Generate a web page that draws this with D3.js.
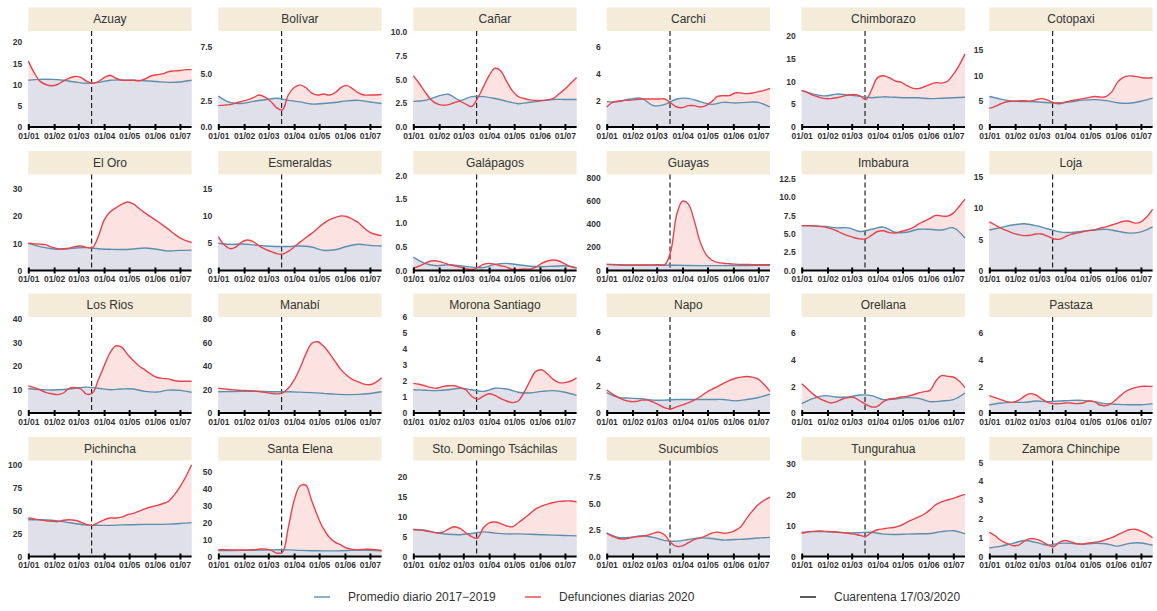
<!DOCTYPE html>
<html>
<head>
<meta charset="utf-8">
<title>Defunciones diarias por provincia</title>
<script src="https://d3js.org/d3.v7.min.js"></script>
<style>
    body { margin: 0; background: #fff; }
    .strip-label { font: 12px "Liberation Sans", Arial, sans-serif; fill: #333; }
    .tick text { font: bold 8.5px "Liberation Sans", Arial, sans-serif; fill: #333; }
    .legend text { font: 12px "Liberation Sans", Arial, sans-serif; fill: #333; }
</style>
</head>
<body>
<svg width="1157" height="611"></svg>
<script>
// day of year 2020 (0 = 01/01)
var weekDays = d3.range(0, 197, 7);        // 29 points, red series
var fortnightDays = d3.range(0, 197, 14);  // 15 points, blue series
var monthDays = [0, 31, 60, 91, 121, 152, 182];
var monthLabels = ["01/01", "01/02", "01/03", "01/04", "01/05", "01/06", "01/07"];
var quarantineDay = 76; // 17/03/2020

var provinces = ["Azuay", "Bolívar", "Cañar", "Carchi", "Chimborazo", "Cotopaxi",
    "El Oro", "Esmeraldas", "Galápagos", "Guayas", "Imbabura", "Loja",
    "Los Rios", "Manabí", "Morona Santiago", "Napo", "Orellana", "Pastaza",
    "Pichincha", "Santa Elena", "Sto. Domingo Tsáchilas", "Sucumbíos", "Tungurahua", "Zamora Chinchipe"];

var yMax = [22.6, 9.0, 10.1, 7.2, 21, 18.6,
    35.3, 17.6, 2.02, 824, 13.05, 15.4,
    40.8, 81.5, 6.0, 7.1, 7.2, 7.2,
    104.7, 56.5, 24.2, 9.05, 30.9, 5.1];

var yTicks = [[0, 5, 10, 15, 20], [0, 2.5, 5, 7.5], [0, 2.5, 5, 7.5, 10], [0, 2, 4, 6], [0, 5, 10, 15, 20], [0, 5, 10, 15],
    [0, 10, 20, 30], [0, 5, 10, 15], [0, 0.5, 1, 1.5, 2], [0, 200, 400, 600, 800], [0, 2.5, 5, 7.5, 10, 12.5], [0, 5, 10, 15],
    [0, 10, 20, 30, 40], [0, 20, 40, 60, 80], [0, 1, 2, 3, 4, 5, 6], [0, 2, 4, 6], [0, 2, 4, 6], [0, 2, 4, 6],
    [0, 25, 50, 75, 100], [0, 10, 20, 30, 40, 50], [0, 5, 10, 15, 20], [0, 2.5, 5, 7.5], [0, 10, 20, 30], [0, 1, 2, 3, 4, 5]];

var yDecimals = [0, 1, 1, 0, 0, 0,
    0, 0, 1, 0, 1, 0,
    0, 0, 0, 0, 0, 0,
    0, 0, 0, 1, 0, 0];

// Defunciones diarias 2020 (smoothed), weekly
var deaths2020 = [
    [15.5, 12.8, 10.8, 10.0, 9.7, 10.0, 10.8, 11.5, 11.9, 11.7, 10.8, 10.3, 10.7, 11.6, 12.2, 11.5, 11.0, 11.0, 11.0, 10.9, 11.3, 12.0, 12.3, 12.5, 13.0, 13.2, 13.3, 13.5, 13.5],
    [2.0, 2.05, 2.1, 2.25, 2.4, 2.55, 2.75, 3.0, 2.8, 2.4, 1.8, 1.6, 3.0, 3.7, 3.95, 3.7, 3.2, 3.0, 3.1, 3.0, 3.2, 3.7, 3.9, 3.6, 3.2, 3.0, 3.0, 3.0, 3.05],
    [5.4, 4.6, 3.7, 2.9, 2.45, 2.3, 2.35, 2.55, 2.7, 2.4, 2.15, 3.0, 4.2, 5.4, 6.2, 5.9, 4.8, 3.8, 3.2, 3.0, 2.85, 2.8, 2.8, 2.85, 3.0, 3.5, 4.0, 4.6, 5.2],
    [1.5, 1.85, 1.95, 2.0, 2.0, 2.05, 2.1, 2.1, 2.1, 2.1, 2.1, 1.8, 1.5, 1.45, 1.6, 1.6, 1.5, 1.6, 1.9, 2.3, 2.35, 2.35, 2.55, 2.55, 2.5, 2.55, 2.65, 2.75, 2.9],
    [8.0, 7.5, 6.9, 6.5, 6.2, 6.2, 6.4, 6.7, 7.0, 7.1, 6.8, 6.0, 8.2, 10.8, 11.2, 10.8, 10.1, 9.8, 9.1, 8.5, 8.4, 8.8, 9.3, 9.7, 9.6, 10.0, 11.5, 13.5, 16.0],
    [3.6, 4.0, 4.5, 4.9, 5.0, 5.05, 5.1, 5.0, 5.3, 5.5, 5.2, 4.7, 4.5, 4.8, 5.1, 5.3, 5.5, 5.7, 5.9, 5.8, 5.9, 6.8, 8.7, 9.6, 9.9, 9.8, 9.6, 9.5, 9.6],
    [10.0, 9.8, 9.7, 9.5, 8.6, 8.0, 8.0, 8.2, 8.8, 9.0, 8.5, 8.4, 12.5, 18.5, 21.5, 23.0, 24.3, 25.2, 24.5, 22.8, 21.2, 19.7, 18.3, 16.8, 15.2, 13.5, 12.0, 11.0, 10.3],
    [6.2, 4.7, 4.0, 4.3, 5.2, 5.6, 5.3, 4.5, 3.9, 3.5, 3.1, 3.0, 3.5, 4.3, 5.2, 6.0, 6.8, 7.7, 8.6, 9.3, 9.7, 10.0, 9.9, 9.4, 8.8, 7.8, 7.0, 6.6, 6.4],
    [0.05, 0.09, 0.15, 0.2, 0.2, 0.17, 0.13, 0.1, 0.07, 0.04, 0.02, 0.06, 0.13, 0.15, 0.13, 0.1, 0.07, 0.02, 0.02, 0.03, 0.03, 0.07, 0.15, 0.2, 0.22, 0.2, 0.14, 0.08, 0.05],
    [55, 52, 50, 48, 48, 47, 47, 47, 48, 50, 52, 170, 480, 595, 570, 430, 250, 140, 90, 70, 62, 58, 55, 53, 52, 50, 50, 50, 50],
    [6.1, 6.1, 6.1, 6.0, 5.9, 5.7, 5.4, 5.0, 4.7, 4.45, 4.3, 4.3, 4.8, 5.3, 5.4, 5.15, 5.1, 5.3, 5.5, 5.8, 6.3, 6.7, 7.1, 7.5, 7.4, 7.4, 7.8, 8.7, 9.7],
    [7.8, 7.3, 6.8, 6.4, 6.0, 5.75, 5.6, 5.65, 5.85, 5.85, 5.5, 5.1, 5.0, 5.4, 5.8, 6.0, 6.2, 6.4, 6.5, 6.8, 7.0, 7.3, 7.6, 7.9, 7.9, 7.6, 7.8, 8.6, 9.8],
    [11.5, 10.8, 9.8, 8.8, 8.2, 7.8, 8.5, 10.5, 10.8, 10.2, 8.0, 8.5, 14.0, 20.0, 25.5, 28.5, 28.0, 25.0, 22.3, 20.0, 18.3, 16.5, 15.2, 14.7, 14.5, 13.8, 13.5, 13.5, 13.5],
    [21, 20.5, 20, 19.5, 19.2, 19, 18.8, 18.3, 17.5, 16.8, 16.2, 17.0, 21.0, 28, 38, 50, 59, 60.5, 57, 51, 44, 37, 32, 28.5, 26.5, 24.5, 24, 26, 30],
    [1.85, 1.8, 1.7, 1.6, 1.55, 1.65, 1.7, 1.7, 1.6, 1.45, 1.05, 0.85, 1.05, 1.2, 1.1, 0.9, 0.75, 0.65, 0.75, 1.3, 2.0, 2.6, 2.7, 2.45, 2.1, 1.9, 1.9, 2.0, 2.2],
    [1.7, 1.4, 1.15, 0.95, 0.85, 0.85, 0.95, 0.95, 0.8, 0.6, 0.38, 0.3, 0.45, 0.6, 0.75, 0.95, 1.2, 1.5, 1.75, 1.95, 2.2, 2.4, 2.55, 2.65, 2.7, 2.65, 2.5, 2.1, 1.6],
    [2.2, 1.8, 1.4, 1.1, 0.9, 0.75, 0.85, 1.05, 1.15, 1.15, 0.9, 0.65, 0.45, 0.5, 0.85, 1.05, 1.1, 1.2, 1.25, 1.35, 1.5, 1.6, 1.7, 2.4, 2.8, 2.75, 2.7, 2.4, 1.9],
    [1.3, 1.15, 1.0, 0.85, 0.8, 0.95, 1.25, 1.45, 1.35, 1.05, 0.8, 0.7, 0.7, 0.75, 0.75, 0.7, 0.75, 0.9, 0.85, 0.6, 0.55, 0.75, 1.1, 1.5, 1.75, 1.9, 2.0, 2.0, 2.0],
    [42, 41, 40, 39, 38.5, 38, 39.5, 40, 39.5, 37.5, 35, 34, 37, 40, 42, 42, 43, 45.5, 47, 49.5, 52, 54, 55.5, 57.5, 60, 67, 76, 87, 100],
    [4.0, 4.0, 3.9, 3.8, 3.8, 3.9, 4.0, 4.3, 4.5, 3.8, 2.0, 2.5, 17, 33, 41.5, 42, 33, 24, 16.5, 11.5, 8.5, 6.8, 5.0, 4.2, 4.0, 4.2, 4.3, 4.0, 3.5],
    [6.8, 6.7, 6.5, 6.2, 6.0, 6.1, 6.9, 7.5, 7.1, 6.0, 5.0, 4.6, 7.2, 8.5, 8.7, 8.3, 7.7, 7.5, 8.5, 9.6, 10.8, 12.0, 12.7, 13.2, 13.6, 13.9, 14.0, 14.0, 13.8],
    [2.2, 1.9, 1.7, 1.65, 1.75, 1.85, 1.9, 2.0, 2.2, 2.3, 2.0, 1.3, 0.95, 1.0, 1.3, 1.6, 1.75, 1.95, 2.2, 2.3, 2.2, 2.25, 2.45, 2.8, 3.6, 4.3, 4.9, 5.3, 5.6],
    [7.5, 7.9, 8.1, 8.2, 8.1, 8.0, 7.9, 7.7, 7.5, 7.2, 6.8, 6.5, 7.8, 8.6, 8.9, 9.2, 9.4, 10.0, 11.0, 11.9, 12.7, 13.6, 15.0, 16.7, 17.6, 18.2, 18.7, 19.4, 20.0],
    [1.3, 1.1, 0.85, 0.7, 0.58, 0.6, 0.82, 0.95, 0.92, 0.8, 0.62, 0.52, 0.75, 0.85, 0.78, 0.68, 0.66, 0.72, 0.75, 0.8, 0.9, 1.0, 1.15, 1.3, 1.42, 1.45, 1.35, 1.2, 1.0]
];

// Promedio diario 2017-2019 (smoothed), every two weeks
var average1719 = [
    [11.0, 11.2, 11.2, 11.0, 10.6, 10.3, 10.5, 11.0, 11.1, 11.0, 10.9, 10.7, 10.5, 10.6, 11.0],
    [2.9, 2.3, 2.2, 2.4, 2.55, 2.7, 2.5, 2.35, 2.15, 2.2, 2.3, 2.45, 2.5, 2.35, 2.2],
    [2.7, 2.8, 3.2, 3.45, 2.8, 3.2, 3.2, 3.0, 2.7, 2.45, 2.6, 2.75, 2.9, 2.9, 2.9],
    [1.9, 1.9, 2.1, 2.15, 1.6, 1.7, 2.1, 2.15, 1.9, 1.7, 1.85, 1.8, 1.85, 1.85, 1.5],
    [8.0, 7.2, 6.8, 7.2, 7.0, 6.7, 6.4, 6.6, 6.5, 6.4, 6.4, 6.2, 6.3, 6.4, 6.5],
    [5.9, 5.4, 5.0, 4.95, 4.9, 4.7, 4.7, 4.9, 5.2, 5.3, 5.1, 4.7, 4.6, 5.0, 5.6],
    [10.0, 8.8, 8.0, 7.8, 8.3, 8.4, 8.0, 7.8, 7.7, 7.9, 8.3, 7.8, 7.2, 7.4, 7.5],
    [5.0, 4.8, 4.85, 4.7, 4.5, 4.4, 4.4, 4.5, 4.3, 3.7, 3.8, 4.4, 4.8, 4.6, 4.5],
    [0.28, 0.15, 0.1, 0.12, 0.1, 0.07, 0.06, 0.13, 0.15, 0.12, 0.09, 0.08, 0.09, 0.1, 0.06],
    [50, 47, 45, 45, 45, 45, 45, 43, 42, 42, 42, 42, 43, 44, 45],
    [6.1, 6.05, 6.0, 5.8, 5.8, 5.3, 5.6, 5.9, 5.2, 5.2, 5.6, 5.6, 5.5, 5.8, 4.4],
    [6.5, 6.9, 7.3, 7.5, 7.2, 6.7, 6.2, 6.1, 6.3, 6.5, 6.6, 6.3, 6.0, 6.2, 7.0],
    [10.3, 10.0, 9.8, 10.0, 10.5, 11.0, 10.5, 9.9, 10.2, 10.2, 9.2, 8.9, 9.7, 9.6, 8.8],
    [18, 18.3, 18.5, 18.5, 18.3, 18.0, 18.0, 17.7, 17.3, 16.7, 16.0, 15.6, 15.8, 16.5, 18.0],
    [1.45, 1.42, 1.4, 1.45, 1.55, 1.45, 1.35, 1.55, 1.5, 1.3, 1.25, 1.35, 1.4, 1.3, 1.1],
    [1.5, 1.15, 1.1, 1.05, 0.95, 0.95, 1.0, 1.0, 1.0, 1.0, 1.0, 0.9, 1.0, 1.15, 1.4],
    [0.7, 1.1, 1.3, 1.2, 1.2, 1.35, 1.3, 1.0, 1.05, 1.15, 1.1, 0.85, 0.9, 1.0, 1.5],
    [0.6, 0.75, 0.8, 0.8, 0.9, 0.85, 0.9, 0.95, 0.95, 0.85, 0.7, 0.65, 0.62, 0.62, 0.7],
    [40, 40, 39.5, 38, 36, 34.2, 34, 34, 34.5, 34.7, 35, 35, 35.3, 36, 37],
    [3.5, 3.5, 3.6, 3.7, 3.8, 4.0, 3.9, 3.6, 3.4, 3.3, 3.3, 3.5, 3.8, 3.6, 3.3],
    [6.8, 6.6, 6.0, 5.6, 5.5, 5.8, 6.2, 5.9, 5.7, 5.7, 5.6, 5.5, 5.4, 5.3, 5.2],
    [2.2, 1.8, 1.8, 1.95, 1.8, 1.5, 1.45, 1.6, 1.75, 1.7, 1.55, 1.6, 1.65, 1.75, 1.8],
    [7.8, 8.0, 8.0, 7.8, 7.6, 7.7, 7.8, 7.2, 7.1, 7.2, 7.3, 7.4, 8.0, 8.3, 7.3],
    [0.45, 0.55, 0.7, 0.85, 0.75, 0.6, 0.7, 0.7, 0.65, 0.7, 0.68, 0.55, 0.7, 0.72, 0.6]
];

var blue = "#5b8fae", red = "#e8434b", blueFill = "#dfe0ea", redFill = "#fde2e2", stripFill = "#f4ecd9";

var svg = d3.select("svg");

// facet layout
var colX = [28.3, 218.3, 413.3, 606.7, 801.7, 989.3],
    rowY = [7.5, 151, 293.5, 437],
    panelW = 163.3, stripH = 23.5, panelH = 96;

var x = d3.scaleLinear().domain([0, 196]).range([0, panelW]);

provinces.forEach(function(name, i) {
    var col = i % 6, row = Math.floor(i / 6);
    var g = svg.append("g")
        .attr("transform", "translate(" + colX[col] + "," + rowY[row] + ")");

    g.append("rect")
        .attr("width", panelW).attr("height", stripH)
        .attr("fill", stripFill);
    g.append("text")
        .attr("class", "strip-label")
        .attr("x", panelW / 2).attr("y", stripH / 2 + 4)
        .attr("text-anchor", "middle")
        .text(name);

    var p = g.append("g").attr("transform", "translate(0," + stripH + ")");
    var y = d3.scaleLinear().domain([0, yMax[i]]).range([panelH, 0]);

    var redPts = weekDays.map(function(d, k) { return [d, deaths2020[i][k]]; });
    var bluePts = fortnightDays.map(function(d, k) { return [d, average1719[i][k]]; });

    var area = d3.area()
        .x(function(d) { return x(d[0]); })
        .y0(panelH)
        .y1(function(d) { return y(d[1]); })
        .curve(d3.curveCatmullRom.alpha(0.5));
    var line = d3.line()
        .x(function(d) { return x(d[0]); })
        .y(function(d) { return y(d[1]); })
        .curve(d3.curveCatmullRom.alpha(0.5));

    p.append("path").datum(redPts).attr("d", area).attr("fill", redFill);
    p.append("path").datum(bluePts).attr("d", area).attr("fill", blueFill);

    p.append("line")
        .attr("x1", x(quarantineDay)).attr("x2", x(quarantineDay))
        .attr("y1", 0).attr("y2", panelH)
        .attr("stroke", "#111").attr("stroke-width", 1.1)
        .attr("stroke-dasharray", "5,3");

    p.append("path").datum(bluePts).attr("d", line)
        .attr("fill", "none").attr("stroke", blue).attr("stroke-width", 1.4);
    p.append("path").datum(redPts).attr("d", line)
        .attr("fill", "none").attr("stroke", red).attr("stroke-width", 1.4);

    var fmt = d3.format("." + yDecimals[i] + "f");
    var yAxis = p.append("g")
        .call(d3.axisLeft(y).tickValues(yTicks[i]).tickFormat(fmt).tickSize(0).tickPadding(6));
    yAxis.select(".domain").remove();

    var xAxis = p.append("g")
        .attr("transform", "translate(0," + panelH + ")")
        .call(d3.axisBottom(x).tickValues(monthDays)
            .tickFormat(function(d, k) { return monthLabels[k]; })
            .tickSize(3).tickPadding(2.5));
    xAxis.select(".domain").attr("stroke", "#000").attr("stroke-width", 2)
        .attr("d", "M0,0H" + panelW);
    xAxis.selectAll(".tick line").attr("stroke", "#000").attr("stroke-width", 2)
        .attr("y1", -3).attr("y2", 3);
});

// legend
var legendItems = ["Promedio diario 2017\u22122019", "Defunciones diarias 2020", "Cuarentena 17/03/2020"];
var legendColors = [blue, red, "#111"];
var legendX = [314, 525, 800];
var legend = svg.append("g").attr("class", "legend").attr("transform", "translate(0,597)");
legendItems.forEach(function(t, i) {
    legend.append("line")
        .attr("x1", legendX[i]).attr("x2", legendX[i] + 16)
        .attr("stroke", legendColors[i]).attr("stroke-width", 1.4);
    legend.append("text")
        .attr("x", legendX[i] + 34).attr("y", 4)
        .text(t);
});
</script>
</body>
</html>
